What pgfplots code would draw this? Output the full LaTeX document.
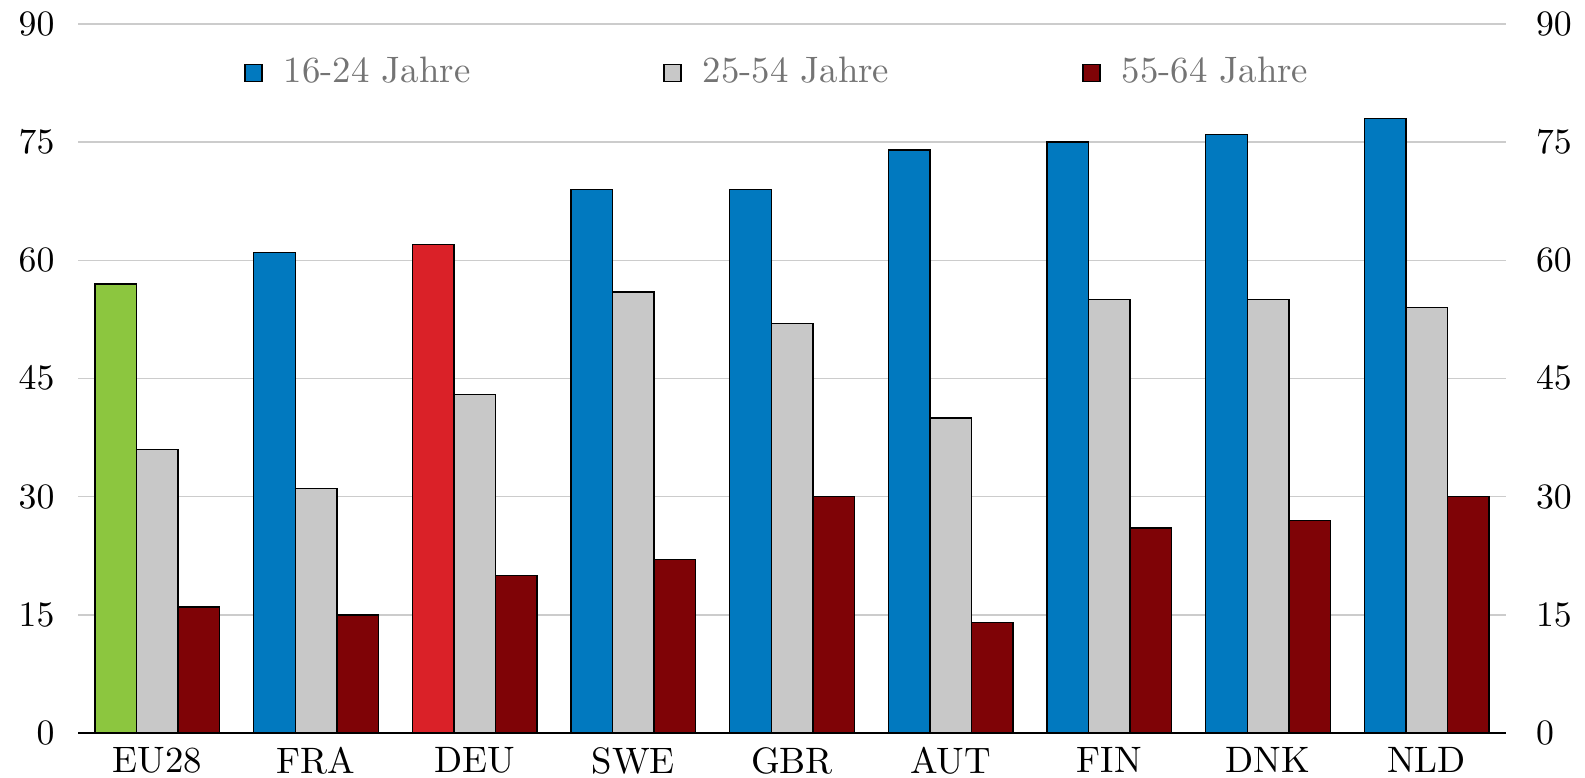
\documentclass[border=0pt]{standalone}
\usepackage{pgfplots}
\pgfplotsset{compat=1.18}
\usepackage{graphicx}
\definecolor{cblue}{HTML}{0179BF}
\definecolor{cgreen}{HTML}{8CC63F}
\definecolor{cred}{HTML}{DA2128}
\definecolor{cgray}{HTML}{C8C8C8}
\definecolor{cdark}{HTML}{7F0306}
\definecolor{cgrid}{HTML}{CCCCCC}
\definecolor{ctext}{HTML}{747474}
\begin{document}
\begin{tikzpicture}
\begin{axis}[
  name=ax,
  scale only axis,
  width=399.8pt, height=198.5pt,
  xmin=-0.5, xmax=8.5,
  ymin=0, ymax=90,
  ytick={0,15,30,45,60,75,90},
  xtick={0,1,2,3,4,5,6,7,8},
  xticklabels={EU28,FRA,DEU,SWE,GBR,AUT,FIN,DNK,NLD},
  axis x line*=bottom,
  axis y line*=left,
  x axis line style={black, line width=0.7pt, -},
  y axis line style={draw=none},
  xtick style={draw=none},
  ytick style={draw=none},
  ymajorgrids,
  major grid style={cgrid, line width=0.42pt},
  tick label style={font=\fontsize{10.3}{12}\selectfont, inner sep=0pt},
  xticklabel style={yshift=-3.8pt},
  yticklabel style={xshift=-6.4pt},
  bar width=0.262,
  legend columns=3,
  legend image code/.code={\draw[#1, line width=0.4pt] (0pt,-2.38pt) rectangle (4.76pt,2.38pt);},
  legend style={draw=none, fill=none, at={(0.489,0.931)}, anchor=center,
    font=\fontsize{10.3}{12}\selectfont, text=ctext,
    nodes={inner xsep=0pt, inner ysep=1pt},
    /tikz/every odd column/.append style={column sep=5.9pt},
    /tikz/every even column/.append style={column sep=54pt}},
]
\addplot[ybar, bar shift=-0.262, fill=cblue, draw=black, line width=0.4pt]
  coordinates {(1,61) (3,69) (4,69) (5,74) (6,75) (7,76) (8,78)};
\addlegendentry{16-24 Jahre}
\addplot[ybar, bar shift=0, fill=cgray, draw=black, line width=0.4pt]
  coordinates {(0,36) (1,31) (2,43) (3,56) (4,52) (5,40) (6,55) (7,55) (8,54)};
\addlegendentry{25-54 Jahre}
\addplot[ybar, bar shift=0.262, fill=cdark, draw=black, line width=0.4pt]
  coordinates {(0,16) (1,15) (2,20) (3,22) (4,30) (5,14) (6,26) (7,27) (8,30)};
\addlegendentry{55-64 Jahre}
\addplot[ybar, bar shift=-0.262, fill=cgreen, draw=black, line width=0.4pt, forget plot]
  coordinates {(0,57)};
\addplot[ybar, bar shift=-0.262, fill=cred, draw=black, line width=0.4pt, forget plot]
  coordinates {(2,62)};
\end{axis}
\begin{axis}[
  scale only axis,
  width=399.8pt, height=198.5pt,
  xmin=-0.5, xmax=8.5,
  ymin=0, ymax=90,
  ytick={0,15,30,45,60,75,90},
  hide x axis,
  axis y line*=right,
  y axis line style={draw=none},
  ytick style={draw=none},
  tick label style={font=\fontsize{10.3}{12}\selectfont, inner sep=0pt},
  yticklabel style={xshift=8.2pt},
]
\addplot[draw=none, forget plot] coordinates {(0,0)};
\end{axis}
\path (ax.south west) ++(-21.84pt,-12.6pt) coordinate (bl);
\path (ax.north east) ++(22.12pt,6.72pt) coordinate (tr);
\path (bl) rectangle (tr);
\end{tikzpicture}
\end{document}
